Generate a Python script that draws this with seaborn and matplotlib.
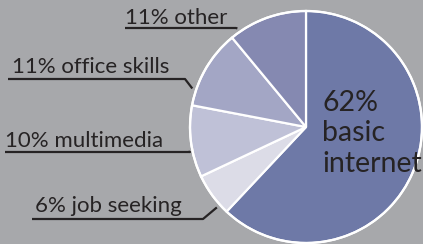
import matplotlib
matplotlib.use("Agg")
import matplotlib.pyplot as plt
import numpy as np
import seaborn as sns

# slice data, clockwise from 12 o'clock
categories = ["basic internet", "job seeking", "multimedia", "office skills", "other"]
shares = [62, 6, 10, 11, 11]
colors = ["#6e79a7", "#dcdce7", "#bfc1d7", "#a3a6c5", "#8589b1"]

BG = "#a7a8ab"
INK = "#262324"
W, H = 423, 244
CX, CY, R = 306, 127, 116  # pie centre / radius in pixels


def px(x, y):
    """pixel (from top-left) -> pie data units"""
    return (x - CX) / R, (CY - y) / R


sns.set_theme(style="white", rc={"axes.facecolor": BG, "figure.facecolor": BG})
plt.rcParams["font.family"] = ["Lato", "DejaVu Sans"]

fig = plt.figure(figsize=(W / 100, H / 100), dpi=100)
ax = fig.add_axes([0, 0, 1, 1])
ax.pie(shares, colors=colors, startangle=90, counterclock=False,
       wedgeprops=dict(edgecolor="white", linewidth=1.6))
ax.add_patch(plt.Circle((0, 0), 1, fill=False, edgecolor="white", lw=1.6))

x0, y1 = px(0, 0)
x1, y0 = px(W, H)
ax.set_xlim(x0, x1)
ax.set_ylim(y0, y1)
ax.set_aspect("equal")
ax.axis("off")

# wedge boundaries (degrees) to place leader ends on the rim
bounds = 90 - np.cumsum([0] + shares) * 3.6

# label layout: text left x, baseline y, underline x-start, x-end, y, leader angle fraction in wedge
layout = {
    "other":         (125, 24, 125, 236, 28, 0.12),
    "office skills": (12, 73, 8, 185, 79, 0.2),
    "multimedia":    (5, 147, 5, 190, 152, 0.37),
    "job seeking":   (35, 212, 32, 203, 219, 0.22),
}

for i, (cat, val) in enumerate(zip(categories, shares)):
    if cat not in layout:
        continue
    tx, ty, ux0, ux1, uy, frac = layout[cat]
    a0, a1 = bounds[i], bounds[i + 1]
    ang = np.deg2rad(a0 + (a1 - a0) * frac)
    ex, ey = 1.035 * np.cos(ang), 1.035 * np.sin(ang)
    sx, sy = px(ux0, uy)
    kx, ky = px(ux1, uy)
    ax.plot([sx, kx, ex], [sy, ky, ey], color=INK, lw=1.6,
            solid_capstyle="butt", zorder=3)
    lx, ly = px(tx, ty)
    ax.text(lx, ly, f"{val}% {cat}", fontsize=16, color=INK,
            ha="left", va="baseline")

bx, by = px(322, 172)
ax.text(bx, by, f"{shares[0]}%\nbasic\ninternet", fontsize=20.5, color=INK,
        ha="left", va="baseline", linespacing=1.22, multialignment="left")

fig.savefig("out.png", dpi=100, facecolor=BG)
plt.close(fig)
